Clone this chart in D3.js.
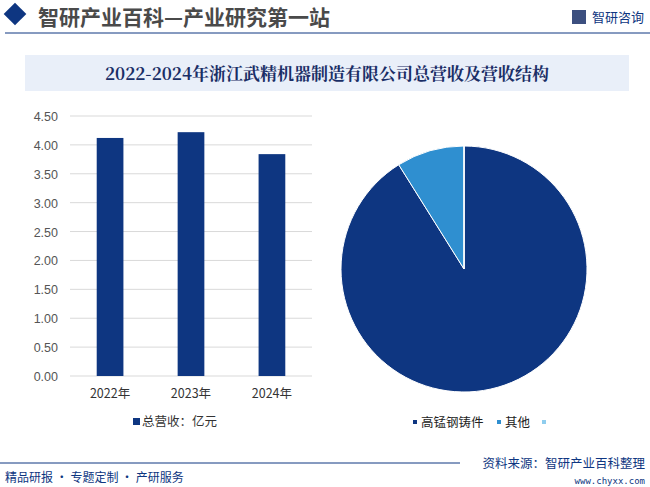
<!DOCTYPE html>
<html><head><meta charset="utf-8">
<script src="https://cdn.jsdelivr.net/npm/d3@7"></script>
<style>body{margin:0;background:#fff}svg{font-family:"Noto Sans CJK SC","Noto Sans",sans-serif}</style>
</head><body>
<script>
// data
var years = ["2022年", "2023年", "2024年"];
var revenue = [4.12, 4.22, 3.84];
var yTicks = [0, 0.5, 1, 1.5, 2, 2.5, 3, 3.5, 4, 4.5];
var pieLabels = ["高锰钢铸件", "其他", ""];
var pieValues = [91.1, 8.9, 0];
var pieColors = ["#0e3681", "#2f8fd0", "#8fcdee"];

var W = 650, H = 487;
var svg = d3.select("body").append("svg").attr("width", W).attr("height", H);

// header
svg.append("rect").attr("x", 7).attr("y", 6).attr("width", 16).attr("height", 16)
    .attr("transform", "rotate(45 15 14)").attr("fill", "#0e3681");
svg.append("text").attr("x", 38).attr("y", 25).attr("font-size", 21).attr("font-weight", "bold")
    .attr("fill", "#4a4a4a").text("智研产业百科—产业研究第一站");
svg.append("text").attr("x", 592).attr("y", 22).attr("font-size", 13).attr("fill", "#0e3681").text("智研咨询");
svg.append("rect").attr("x", 572).attr("y", 10).attr("width", 14).attr("height", 14).attr("fill", "#3c4f7f");
svg.append("line").attr("x1", 5).attr("x2", 650).attr("y1", 33).attr("y2", 33).attr("stroke", "#0e3681");

// title band
svg.append("rect").attr("x", 25).attr("y", 55).attr("width", 604).attr("height", 36).attr("fill", "#e9eff9");
svg.append("text").attr("x", 327).attr("y", 80).attr("text-anchor", "middle").attr("font-size", 17)
    .attr("font-weight", "bold").attr("fill", "#1a2e66").attr("font-family", "Noto Serif CJK SC, Noto Sans CJK SC")
    .text("2022-2024年浙江武精机器制造有限公司总营收及营收结构");

// bar chart
var x = d3.scaleBand().domain(years).range([70, 312]).paddingInner(0.67).paddingOuter(0.33);
var y = d3.scaleLinear().domain([0, 4.5]).range([376, 116]);
var g = svg.append("g");
g.selectAll(".grid").data(yTicks).enter().append("line")
    .attr("x1", 70).attr("x2", 312).attr("y1", d => y(d)).attr("y2", d => y(d))
    .attr("stroke", "#d9d9d9");
g.selectAll(".yl").data(yTicks).enter().append("text")
    .attr("x", 58).attr("y", d => y(d) + 5).attr("text-anchor", "end")
    .attr("font-size", 12.5).attr("fill", "#555").attr("font-family", "Liberation Sans, Arial")
    .text(d => d.toFixed(2));
g.selectAll(".bar").data(revenue).enter().append("rect")
    .attr("x", (d, i) => x(years[i])).attr("width", x.bandwidth())
    .attr("y", d => y(d)).attr("height", d => y(0) - y(d)).attr("fill", "#0e3681");
g.selectAll(".xl").data(years).enter().append("text")
    .attr("x", d => x(d) + x.bandwidth() / 2).attr("y", 398).attr("text-anchor", "middle")
    .attr("font-size", 12.5).attr("fill", "#333").text(d => d);
g.append("rect").attr("x", 133).attr("y", 418).attr("width", 7).attr("height", 7).attr("fill", "#0e3681");
g.append("text").attr("x", 142).attr("y", 426).attr("font-size", 12.5).attr("fill", "#333").text("总营收：亿元");

// pie chart
var pie = d3.pie().sort(null).value(d => d);
var arc = d3.arc().innerRadius(0).outerRadius(123);
var pg = svg.append("g").attr("transform", "translate(464,269)");
pg.selectAll("path").data(pie(pieValues)).enter().append("path")
    .attr("d", arc).attr("fill", (d, i) => pieColors[i]).attr("stroke", "#fff").attr("stroke-width", 1);

// pie legend
var lx = [413, 497, 542];
pieLabels.forEach(function(l, i) {
    svg.append("rect").attr("x", lx[i]).attr("y", 420).attr("width", 4).attr("height", 4).attr("fill", pieColors[i]);
    svg.append("text").attr("x", lx[i] + 8).attr("y", 427).attr("font-size", 12.5).attr("fill", "#222").text(l);
});

// footer
svg.append("line").attr("x1", 0).attr("x2", 460).attr("y1", 463).attr("y2", 463).attr("stroke", "#0e3681");
svg.append("text").attr("x", 5).attr("y", 482).attr("font-size", 12).attr("fill", "#0e3681").text("精品研报 · 专题定制 · 产研服务");
svg.append("text").attr("x", 645).attr("y", 468).attr("text-anchor", "end").attr("font-size", 12.5).attr("fill", "#0e3681").text("资料来源：智研产业百科整理");
svg.append("text").attr("x", 645).attr("y", 484).attr("text-anchor", "end").attr("font-size", 9).attr("fill", "#0e3681")
    .attr("font-family", "DejaVu Sans Mono").text("www.chyxx.com");
</script>
</body></html>
